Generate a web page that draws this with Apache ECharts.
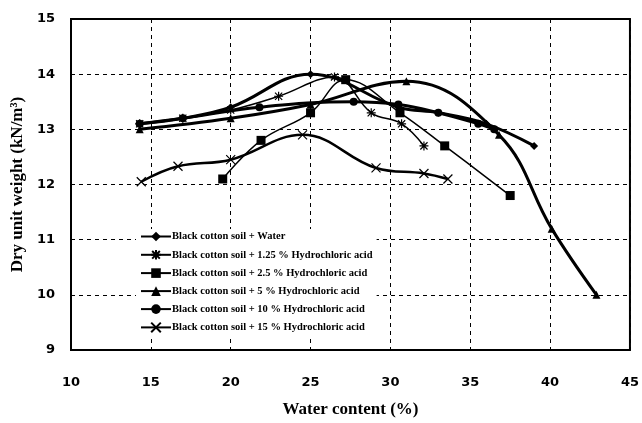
<!DOCTYPE html>
<html>
<head>
<meta charset="utf-8">
<script src="https://cdn.jsdelivr.net/npm/echarts@6/dist/echarts.min.js"></script>
<style>
  html, body { margin: 0; padding: 0; background: #fff; }
  #chart { width: 642px; height: 423px; }
</style>
</head>
<body>
<div id="chart"></div>
<script>
// Compaction curves: dry unit weight vs water content
const seriesNames = [
  'Black cotton soil + Water',
  'Black cotton soil + 1.25 % Hydrochloric acid',
  'Black cotton soil + 2.5 % Hydrochloric acid',
  'Black cotton soil + 5 % Hydrochloric acid',
  'Black cotton soil + 10 % Hydrochloric acid',
  'Black cotton soil + 15 % Hydrochloric acid'
];

const water = [[14.3, 13.1], [17, 13.2], [20, 13.4], [25, 14.0], [30.5, 13.4], [33, 13.3], [36, 13.1], [39, 12.7]];
const hcl125 = [[14.3, 13.1], [17, 13.2], [20, 13.35], [23, 13.6], [26.5, 13.95], [28.8, 13.3], [30.7, 13.1], [32.1, 12.7]];
const hcl25 = [[19.5, 12.1], [21.9, 12.8], [25.0, 13.3], [27.2, 13.9], [30.6, 13.3], [33.4, 12.7], [37.5, 11.8]];
const hcl5 = [[14.3, 13.0], [20, 13.2], [25, 13.45], [31, 13.87], [36.8, 12.9], [40.1, 11.2], [42.9, 10.0]];
const hcl10 = [[14.3, 13.1], [17, 13.2], [21.8, 13.4], [27.7, 13.5], [30.5, 13.45], [33, 13.3], [35.5, 13.1], [36.5, 13.0]];
const hcl15 = [[14.4, 12.05], [16.7, 12.33], [20, 12.45], [24.5, 12.9], [29.1, 12.3], [32.1, 12.2], [33.6, 12.1]];

const xTicks = [10, 15, 20, 25, 30, 35, 40, 45];
const yTicks = [9, 10, 11, 12, 13, 14, 15];

const starPath = 'path://M0,-5L0,5M-5,0L5,0M-4,-4L4,4M-4,4L4,-4';
const crossPath = 'path://M-4,-4L4,4M-4,4L4,-4';

const styles = [
  { data: water, symbol: 'diamond', size: 8, width: 3 },
  { data: hcl125, symbol: starPath, size: 9, width: 1.5, hollow: true },
  { data: hcl25, symbol: 'rect', size: 9, width: 1.5 },
  { data: hcl5, symbol: 'triangle', size: 8, width: 3 },
  { data: hcl10, symbol: 'circle', size: 8, width: 3 },
  { data: hcl15, symbol: crossPath, size: 9, width: 2.5, hollow: true }
];

const chart = echarts.init(document.getElementById('chart'));

chart.setOption({
  animation: false,
  backgroundColor: '#fff',
  grid: { left: 71, right: 10, top: 19, bottom: 64, show: true, borderColor: '#000', borderWidth: 2 },
  xAxis: {
    type: 'value', min: xTicks[0], max: xTicks[xTicks.length - 1], interval: 5,
    name: 'Water content (%)', nameLocation: 'middle', nameGap: 51,
    nameTextStyle: { fontFamily: 'Liberation Serif', fontWeight: 'bold', fontSize: 17, color: '#000' },
    axisLine: { show: false }, axisTick: { show: false },
    axisLabel: { fontFamily: 'DejaVu Sans', fontWeight: 'bold', fontSize: 13, color: '#000', margin: 26 },
    splitLine: { show: true, lineStyle: { color: '#000', type: [4, 4], width: 1 } }
  },
  yAxis: {
    type: 'value', min: yTicks[0], max: yTicks[yTicks.length - 1], interval: 1,
    name: 'Dry unit weight (kN/m³)', nameLocation: 'middle', nameGap: 41,
    nameTextStyle: { fontFamily: 'Liberation Serif', fontWeight: 'bold', fontSize: 17, color: '#000' },
    axisLine: { show: false }, axisTick: { show: false },
    axisLabel: { fontFamily: 'DejaVu Sans', fontWeight: 'bold', fontSize: 13, color: '#000', margin: 16 },
    splitLine: { show: true, lineStyle: { color: '#000', type: [4, 4], width: 1 } }
  },
  legend: {
    orient: 'vertical', left: 136, top: 229, itemGap: 7, itemWidth: 30, itemHeight: 12,
    backgroundColor: '#fff', padding: [2, 4, 2, 4],
    textStyle: { fontFamily: 'Liberation Serif', fontWeight: 'bold', fontSize: 10.5, color: '#000', padding: [0, 0, 0, -4] },
    data: seriesNames
  },
  series: styles.map((s, i) => ({
    name: seriesNames[i],
    type: 'line',
    data: s.data,
    smooth: 0.4,
    symbol: s.symbol,
    symbolSize: s.size,
    lineStyle: { color: '#000', width: s.width },
    itemStyle: { color: '#000', borderColor: '#000', borderWidth: s.hollow ? 1.2 : 0 },
    z: 3
  }))
});
</script>
</body>
</html>
